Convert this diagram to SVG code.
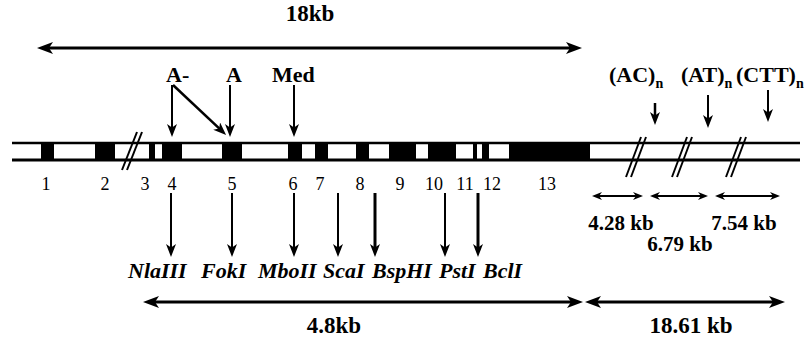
<svg xmlns="http://www.w3.org/2000/svg" width="807" height="337" viewBox="0 0 807 337">
  <style>
    .bold { font-family: "Liberation Serif", "Times New Roman", serif; font-weight: bold; font-size: 21px; fill: #000; }
    .big { font-size: 23px; }
    .rep { font-size: 22px; }
    .num { font-family: "Liberation Serif", "Times New Roman", serif; font-size: 18px; fill: #000; text-anchor: middle; }
    .enz { font-family: "Liberation Serif", "Times New Roman", serif; font-weight: bold; font-style: italic; font-size: 22px; fill: #000; }
    .sub { font-size: 14px; }
    .ln { stroke: #000; fill: none; }
    .exon { fill: #000; }
  </style>
  <defs>
    <marker id="headBig" viewBox="0 0 16 12" markerWidth="16" markerHeight="12" refX="8" refY="6" orient="auto-start-reverse" markerUnits="userSpaceOnUse">
      <path d="M0,0 L16,6 L0,12 L4,6 z" fill="#000"/>
    </marker>
    <marker id="headSm" viewBox="0 0 13 10" markerWidth="13" markerHeight="10" refX="6" refY="5" orient="auto-start-reverse" markerUnits="userSpaceOnUse">
      <path d="M0,0 L13,5 L0,10 L3.5,5 z" fill="#000"/>
    </marker>
    <marker id="headTiny" viewBox="0 0 10 8" markerWidth="10" markerHeight="8" refX="5" refY="4" orient="auto-start-reverse" markerUnits="userSpaceOnUse">
      <path d="M0,0 L10,4 L0,8 L3,4 z" fill="#000"/>
    </marker>
  </defs>

  <!-- gene body: exons and the two strand lines -->
  <g id="gene">
    <g id="exons">
      <rect class="exon" x="41" y="143" width="13" height="17"/>
      <rect class="exon" x="95" y="143" width="20" height="17"/>
      <rect class="exon" x="149" y="143" width="6" height="17"/>
      <rect class="exon" x="162" y="143" width="20" height="17"/>
      <rect class="exon" x="222" y="143" width="20" height="17"/>
      <rect class="exon" x="288" y="143" width="14" height="17"/>
      <rect class="exon" x="315" y="143" width="13" height="17"/>
      <rect class="exon" x="356" y="143" width="13" height="17"/>
      <rect class="exon" x="389" y="143" width="27" height="17"/>
      <rect class="exon" x="428" y="143" width="28" height="17"/>
      <rect class="exon" x="473" y="143" width="4" height="17"/>
      <rect class="exon" x="482" y="143" width="7" height="17"/>
      <rect class="exon" x="509" y="143" width="81" height="17"/>
    </g>
    <line class="ln" x1="12" y1="143" x2="800" y2="143" stroke-width="2.5"/>
    <line class="ln" x1="12" y1="160" x2="800" y2="160" stroke-width="3"/>
    <!-- break marks -->
    <g id="breaks" class="ln" stroke-width="2">
      <line x1="122" y1="170" x2="137" y2="132"/>
      <line x1="127" y1="170" x2="142" y2="132"/>
      <line x1="626" y1="177" x2="641" y2="137"/>
      <line x1="631" y1="177" x2="646" y2="137"/>
      <line x1="672" y1="177" x2="687" y2="137"/>
      <line x1="677" y1="177" x2="692" y2="137"/>
      <line x1="726" y1="177" x2="741" y2="137"/>
      <line x1="731" y1="177" x2="746" y2="137"/>
    </g>
  </g>

  <!-- exon numbers -->
  <g id="exon-numbers">
    <text class="num" x="46" y="190">1</text>
    <text class="num" x="105" y="190">2</text>
    <text class="num" x="145" y="190">3</text>
    <text class="num" x="172" y="190">4</text>
    <text class="num" x="232" y="190">5</text>
    <text class="num" x="293" y="190">6</text>
    <text class="num" x="320" y="190">7</text>
    <text class="num" x="360" y="190">8</text>
    <text class="num" x="400" y="190">9</text>
    <text class="num" x="434" y="190">10</text>
    <text class="num" x="465" y="190">11</text>
    <text class="num" x="492" y="190">12</text>
    <text class="num" x="547" y="190">13</text>
  </g>

  <!-- top span and promoter labels -->
  <g id="span-18kb">
    <text class="bold big" x="310" y="21" text-anchor="middle">18kb</text>
  </g>
  <g id="promoter-labels">
    <text class="bold rep" x="166" y="82">A-</text>
    <text class="bold rep" x="226" y="82">A</text>
    <text class="bold rep" x="272" y="82">Med</text>
  </g>

  <!-- repeat labels -->
  <g id="repeats">
    <text class="bold rep" x="609" y="82">(AC)<tspan class="sub" dy="6">n</tspan></text>
    <text class="bold rep" x="681" y="82">(AT)<tspan class="sub" dy="6">n</tspan></text>
    <text class="bold rep" x="736" y="82">(CTT)<tspan class="sub" dy="6">n</tspan></text>
  </g>

  <!-- distance labels -->
  <g id="distances">
    <text class="bold" x="621" y="230" text-anchor="middle">4.28 kb</text>
    <text class="bold" x="744" y="230" text-anchor="middle">7.54 kb</text>
    <text class="bold" x="680" y="251" text-anchor="middle">6.79 kb</text>
    <text class="bold big" x="334" y="333" text-anchor="middle">4.8kb</text>
    <text class="bold big" x="691" y="333" text-anchor="middle">18.61 kb</text>
  </g>

  <!-- restriction enzyme labels -->
  <g id="enzymes">
    <text class="enz" x="128" y="278">NlaIII</text>
    <text class="enz" x="201" y="278">FokI</text>
    <text class="enz" x="258" y="278">MboII</text>
    <text class="enz" x="323" y="278">ScaI</text>
    <text class="enz" x="372" y="278">BspHI</text>
    <text class="enz" x="439" y="278">PstI</text>
    <text class="enz" x="483" y="278">BclI</text>
  </g>

  <!-- connectors -->
  <g id="connectors" class="ln">
    <!-- span arrows -->
    <line x1="45" y1="48" x2="574" y2="48" stroke-width="3" marker-start="url(#headBig)" marker-end="url(#headBig)"/>
    <line x1="151" y1="302" x2="575" y2="302" stroke-width="3" marker-start="url(#headBig)" marker-end="url(#headBig)"/>
    <line x1="593" y1="302" x2="777" y2="302" stroke-width="3" marker-start="url(#headBig)" marker-end="url(#headBig)"/>
    <!-- promoter arrows -->
    <line x1="172" y1="85" x2="172" y2="130" stroke-width="2" marker-end="url(#headSm)"/>
    <line x1="173" y1="85" x2="221" y2="130.2" stroke-width="2.5" marker-end="url(#headSm)"/>
    <line x1="230" y1="85" x2="230" y2="130" stroke-width="2" marker-end="url(#headSm)"/>
    <line x1="294" y1="85" x2="294" y2="130" stroke-width="2" marker-end="url(#headSm)"/>
    <!-- repeat arrows -->
    <line x1="655" y1="103" x2="655" y2="118" stroke-width="2.5" marker-end="url(#headSm)"/>
    <line x1="708" y1="95" x2="708" y2="121" stroke-width="2" marker-end="url(#headSm)"/>
    <line x1="768" y1="90" x2="768" y2="115" stroke-width="2" marker-end="url(#headSm)"/>
    <!-- repeat spacing arrows -->
    <line x1="597" y1="196" x2="638" y2="196" stroke-width="2" marker-start="url(#headTiny)" marker-end="url(#headTiny)"/>
    <line x1="655" y1="196" x2="703" y2="196" stroke-width="2" marker-start="url(#headTiny)" marker-end="url(#headTiny)"/>
    <line x1="720" y1="196" x2="775" y2="196" stroke-width="2" marker-start="url(#headTiny)" marker-end="url(#headTiny)"/>
    <!-- restriction site arrows -->
    <line x1="171" y1="193" x2="171" y2="250" stroke-width="2" marker-end="url(#headSm)"/>
    <line x1="232" y1="193" x2="232" y2="250" stroke-width="2" marker-end="url(#headSm)"/>
    <line x1="294" y1="193" x2="294" y2="250" stroke-width="2" marker-end="url(#headSm)"/>
    <line x1="338" y1="193" x2="338" y2="250" stroke-width="2" marker-end="url(#headSm)"/>
    <line x1="375" y1="193" x2="375" y2="250" stroke-width="3" marker-end="url(#headSm)"/>
    <line x1="445" y1="193" x2="445" y2="250" stroke-width="2" marker-end="url(#headSm)"/>
    <line x1="478" y1="193" x2="478" y2="250" stroke-width="3" marker-end="url(#headSm)"/>
  </g>
</svg>
